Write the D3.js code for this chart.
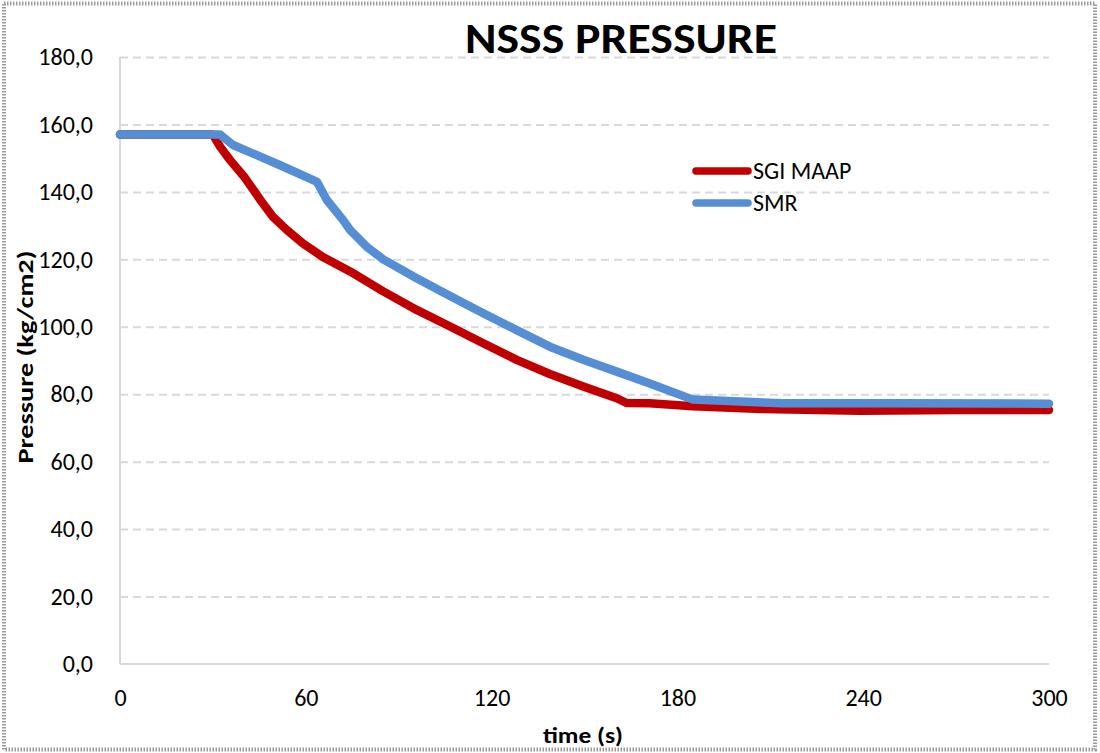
<html lang='en'>
<head>
  <meta charset='UTF-8'/>
  <title>NSSS Pressure</title>
  <script src='https://d3js.org/d3.v7.min.js'></script>
  <style>
    body { margin: 0; background: #fff; }
    text { font-family: Carlito, Calibri, Lato, sans-serif; }
  </style>
</head>
<body>
  <svg id='chart' width='1100' height='753'></svg>
</body>
</html>

<script>
// SGI MAAP series (red)
const timeSgi = [0, 30, 32.4, 35.5, 40.4, 42, 45.8, 49.4, 53.9, 59, 65.5, 74.3, 85, 95.8, 106.6, 117.3, 128.1, 138.8, 149.6, 160.4, 163.6, 171, 185, 207, 239, 270, 300];
const pressSgi = [157, 157, 153.3, 149.5, 144.1, 142, 137, 132.6, 128.7, 124.8, 120.7, 116.4, 110.5, 105.0, 100.1, 95.1, 90.2, 86.0, 82.3, 78.8, 77.4, 77.3, 76.4, 75.6, 75.1, 75.3, 75.3];

// SMR series (blue)
const timeSmr = [0, 32.3, 34.5, 36.5, 44.2, 51.7, 62.4, 63.6, 66.8, 72, 74.3, 79.6, 85, 95.8, 106.6, 117.3, 128.1, 138.8, 149.6, 160.4, 171.1, 185, 214, 250, 300];
const pressSmr = [157, 157, 155.4, 153.9, 150.9, 147.9, 143.5, 143, 137.6, 131.7, 128.7, 123.8, 120.0, 114.4, 109.1, 104.0, 99.0, 94.1, 90.2, 86.7, 83.2, 78.4, 77.3, 77.3, 77.2];

const xTicks = [0, 60, 120, 180, 240, 300];
const yTicks = [0, 20, 40, 60, 80, 100, 120, 140, 160, 180];
const seriesNames = ['SGI MAAP', 'SMR'];
const seriesColors = ['#C00000', '#558ED5'];

const svg = d3.select('#chart');
const plotL = 120, plotR = 1049, plotT = 57, plotB = 664;

// outer frame
svg.append('rect')
  .attr('x', 4).attr('y', 3.5)
  .attr('width', 1091).attr('height', 746)
  .attr('fill', 'none')
  .attr('stroke', '#9a9a9a')
  .attr('stroke-width', 4)
  .attr('stroke-dasharray', '1.5 1.5');

const x = d3.scaleLinear().domain([0, 300]).range([plotL, plotR]);
const y = d3.scaleLinear().domain([0, 180]).range([plotB, plotT]);

// horizontal gridlines
svg.append('g')
  .attr('transform', `translate(${plotL},0)`)
  .call(d3.axisLeft(y).tickValues(yTicks.slice(1)).tickSize(-(plotR - plotL)).tickFormat(''))
  .call(g => g.select('.domain').remove())
  .call(g => g.selectAll('line')
    .attr('stroke', '#d9d9d9')
    .attr('stroke-width', 2)
    .attr('stroke-dasharray', '8 5'));

// axis lines
svg.append('line')
  .attr('x1', plotL).attr('x2', plotL).attr('y1', plotT).attr('y2', plotB)
  .attr('stroke', '#d9d9d9').attr('stroke-width', 2);
svg.append('line')
  .attr('x1', plotL).attr('x2', plotR).attr('y1', plotB).attr('y2', plotB)
  .attr('stroke', '#d9d9d9').attr('stroke-width', 2);

const fmt = d => d3.format('.1f')(d).replace('.', ',');

svg.append('g')
  .attr('transform', `translate(${plotL},0)`)
  .call(d3.axisLeft(y).tickValues(yTicks).tickSize(0).tickPadding(27).tickFormat(fmt))
  .call(g => g.select('.domain').remove())
  .call(g => g.selectAll('text')
    .attr('fill', '#000')
    .style('font-size', '24px')
    .style('font-family', 'Carlito, Calibri, Lato, sans-serif'));

svg.append('g')
  .attr('transform', `translate(0,${plotB})`)
  .call(d3.axisBottom(x).tickValues(xTicks).tickSize(0).tickPadding(25).tickFormat(d3.format('d')))
  .call(g => g.select('.domain').remove())
  .call(g => g.selectAll('text')
    .attr('fill', '#000')
    .style('font-size', '24px')
    .style('font-family', 'Carlito, Calibri, Lato, sans-serif'));

// lines
const line = d3.line().x(d => x(d[0])).y(d => y(d[1]));
const series = [
  d3.zip(timeSgi, pressSgi),
  d3.zip(timeSmr, pressSmr)
];

series.forEach((s, i) => {
  svg.append('path')
    .datum(s)
    .attr('d', line)
    .attr('fill', 'none')
    .attr('stroke', seriesColors[i])
    .attr('stroke-width', 8.5)
    .attr('stroke-linejoin', 'round')
    .attr('stroke-linecap', 'round');
});

// legend
const legend = svg.append('g');
seriesNames.forEach((name, i) => {
  const ly = 171 + i * 32;
  legend.append('line')
    .attr('x1', 696).attr('x2', 748)
    .attr('y1', ly).attr('y2', ly)
    .attr('stroke', seriesColors[i])
    .attr('stroke-width', 7.5)
    .attr('stroke-linecap', 'round');
  legend.append('text')
    .attr('x', 753).attr('y', ly + 8)
    .style('font-size', '24px')
    .text(name);
});

// title and axis labels
svg.append('text')
  .attr('x', 621).attr('y', 53)
  .attr('text-anchor', 'middle')
  .attr('textLength', 312)
  .attr('lengthAdjust', 'spacingAndGlyphs')
  .style('font-size', '43px')
  .style('font-weight', 'bold')
  .text('NSSS PRESSURE');

svg.append('text')
  .attr('transform', 'translate(33,357) rotate(-90)')
  .attr('text-anchor', 'middle')
  .attr('textLength', 213)
  .attr('lengthAdjust', 'spacingAndGlyphs')
  .style('font-size', '22px')
  .style('font-weight', 'bold')
  .text('Pressure (kg/cm2)');

svg.append('text')
  .attr('x', 583).attr('y', 743)
  .attr('text-anchor', 'middle')
  .attr('textLength', 80)
  .attr('lengthAdjust', 'spacingAndGlyphs')
  .style('font-size', '22px')
  .style('font-weight', 'bold')
  .text('time (s)');
</script>
